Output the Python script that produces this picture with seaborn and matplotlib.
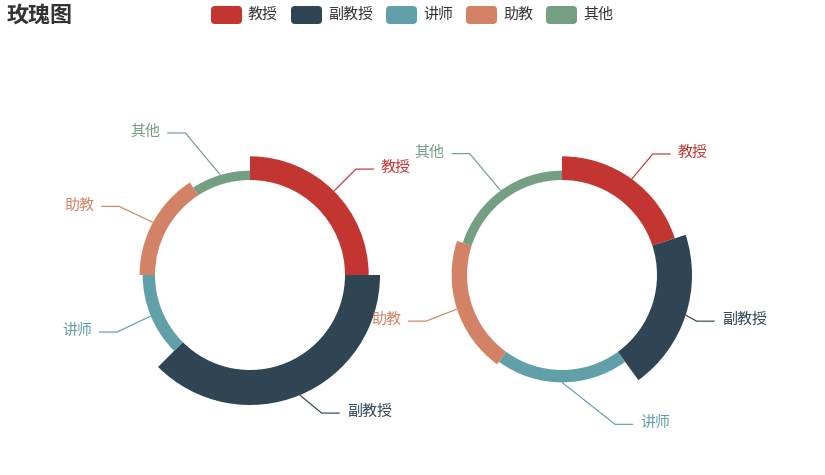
import numpy as np
import matplotlib
matplotlib.use("Agg")
import matplotlib.pyplot as plt
from matplotlib.patches import Wedge, FancyBboxPatch
import seaborn as sns

# ---- data ----
categories = ["教授", "副教授", "讲师", "助教", "其他"]
values = [30, 45, 15, 19, 11]
colors = ["#c23531", "#2f4554", "#61a0a8", "#d48265", "#749f83"]
title = "玫瑰图"

sns.set_theme(style="white")
plt.rcParams['font.family'] = ['Noto Sans CJK SC', 'DejaVu Sans']
palette = sns.color_palette(colors)

W, H = 825, 475
PX = 0.72  # px -> pt at dpi 100

fig = plt.figure(figsize=(W / 100, H / 100), dpi=100)
ax = fig.add_axes([0, 0, 1, 1])
ax.set_xlim(0, W)
ax.set_ylim(H, 0)
ax.axis("off")

R_INNER = 95
R_BASE = 96
R_MAX = 130

# label elbow offsets (screen px) for each chart, per slice
elbow_left = [(22, -22), (22, 18), (-34, 16), (-34, -16), (-35, -42)]
elbow_right = [(21, -25), (11, 6), (53, 42), (-31, 12), (-31, -37)]


def rose(cx, cy, mode, elbows):
    vals = np.array(values, dtype=float)
    vmax = vals.max()
    if mode == "radius":
        sweeps = vals / vals.sum() * 360.0
    else:
        sweeps = np.full(len(vals), 360.0 / len(vals))
    start = -90.0
    for i, (v, sw) in enumerate(zip(vals, sweeps)):
        r = R_BASE + (R_MAX - R_BASE) * v / vmax
        col = palette[i]
        ax.add_patch(Wedge((cx, cy), r, start, start + sw, width=r - R_INNER,
                           facecolor=col, edgecolor="none", antialiased=True))
        mid = np.deg2rad(start + sw / 2)
        px, py = cx + r * np.cos(mid), cy + r * np.sin(mid)
        ex, ey = px + elbows[i][0], py + elbows[i][1]
        side = 1 if elbows[i][0] >= 0 else -1
        hx = ex + side * 18
        ax.plot([px, ex, hx], [py, ey, ey], color=col, lw=0.85, solid_capstyle="butt")
        ax.text(hx + side * 7, ey - 1, categories[i], color=col, fontsize=15 * PX,
                ha="left" if side > 0 else "right", va="center")
        start += sw


rose(250, 275, "radius", elbow_left)
rose(562, 275, "area", elbow_right)

# title
ax.text(7, 15, title, fontsize=22 * PX, fontweight="bold", color="#333333",
        ha="left", va="center")

# legend
x = 211
for i, cat in enumerate(categories):
    ax.add_patch(FancyBboxPatch((x, 6), 31, 18, boxstyle="round,pad=0,rounding_size=4",
                                facecolor=palette[i], edgecolor="none"))
    ax.text(x + 37, 14.5, cat, fontsize=15 * PX, color="#333333", ha="left", va="center")
    x += 37 + 15 * len(cat) + 13

fig.savefig("out.png", dpi=100)
